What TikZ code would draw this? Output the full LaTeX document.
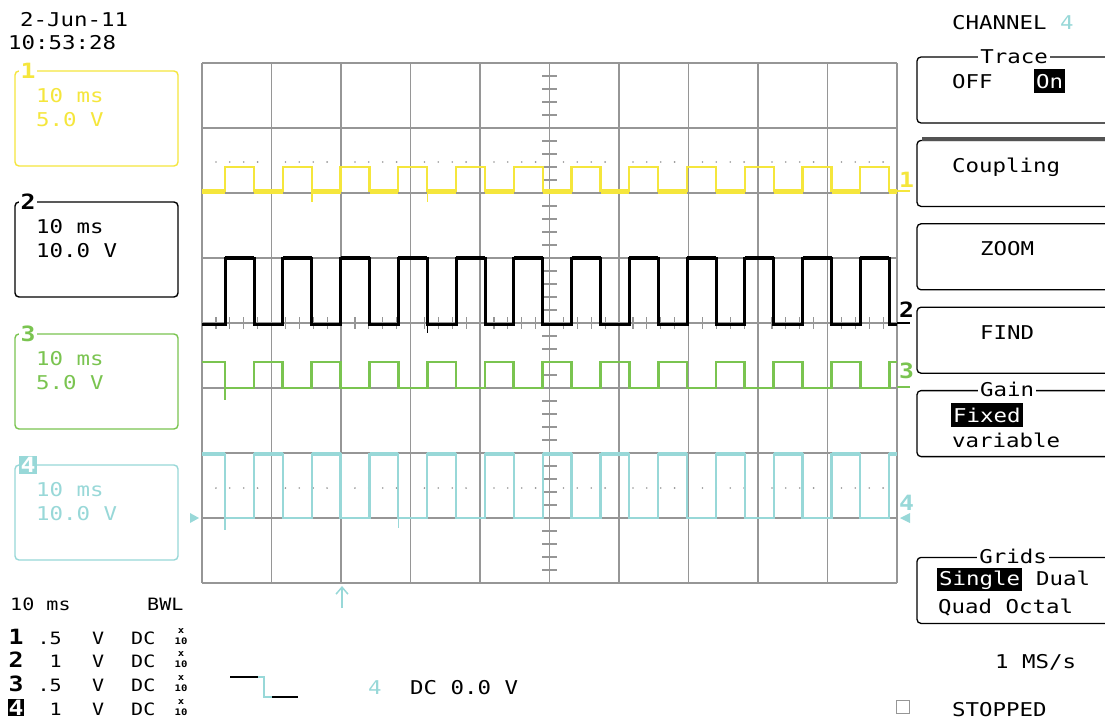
\documentclass[tikz,border=0pt]{standalone}
\usepackage{fontspec}
\newfontfamily\scopefont[FakeStretch=1.18]{DejaVu Sans Mono}
\usepackage{tikz}
\usetikzlibrary{arrows.meta}

\definecolor{chone}{RGB}{245,230,60}
\definecolor{chtwo}{RGB}{0,0,0}
\definecolor{chthree}{RGB}{122,196,80}
\definecolor{chfour}{RGB}{152,216,216}
\definecolor{grat}{RGB}{150,150,150}

\begin{document}
\begin{tikzpicture}[x=1pt,y=-1pt,line join=miter,
                    font=\scopefont\fontsize{19}{22}\selectfont]

  \tikzstyle{txt}=[inner sep=0pt,anchor=base west]
  \tikzstyle{small}=[txt,font=\scopefont\fontsize{17}{20}\selectfont]
  \tikzstyle{tag}=[inner sep=1.5pt,font=\scopefont\bfseries\fontsize{21}{22}\selectfont]
  \tikzstyle{probe}=[inner sep=0pt,anchor=base,font=\scopefont\bfseries\fontsize{9}{9}\selectfont]
  \tikzstyle{menu}=[draw,line width=1.3pt,rounded corners=4pt]
  \tikzstyle{title}=[fill=white,inner xsep=2pt,inner ysep=0pt,anchor=base]
  \tikzstyle{inv}=[fill=black,text=white,inner xsep=2pt,inner ysep=5pt,anchor=base west]
  \tikzstyle{gratline}=[grat,line width=1.6pt]

  \useasboundingbox (0,0) rectangle (1105,720);
  \clip (0,0) rectangle (1105,720);
  \fill[white] (0,0) rectangle (1105,720);

  % date and time
  \node[txt] (date) at (20,26) {2-Jun-11};
  \node[txt] (time) at (8,49) {10:53:28};

  % channel boxes on the left
  \foreach \n/\col/\ty/\volt/\bg/\fg in {1/chone/71/5.0 V/white/chone,
      2/chtwo/202/10.0 V/white/chtwo, 3/chthree/334/5.0 V/white/chthree,
      4/chfour/465/10.0 V/chfour/white} {
    \draw[\col,line width=1.4pt,rounded corners=4pt] (15,\ty) rectangle (178,\ty+95);
    \node[txt,text=\col] (ms\n) at (36,\ty+31) {10 ms};
    \node[txt,text=\col] (vd\n) at (36,\ty+55) {\volt};
    \node[tag,fill=\bg,text=\fg] (lb\n) at (28,\ty) {\n};
  }

  % graticule
  \foreach \i in {0,...,10}
    \draw[gratline] ({202+69.5*\i},63) -- ({202+69.5*\i},583);
  \foreach \j in {0,...,8}
    \draw[gratline] (202,{63+65*\j}) -- (897,{63+65*\j});
  \foreach \j in {1,...,39}
    \draw[gratline,line width=1.2pt] (542,{63+13*\j}) -- (557,{63+13*\j});
  \foreach \i in {1,...,49}
    \draw[gratline,line width=1.2pt] ({202+13.9*\i},317) -- ({202+13.9*\i},329);
  \foreach \d in {0,...,9}
    \foreach \m in {1,...,4} {
      \fill[grat] ({202+69.5*\d+13.9*\m},162) circle (0.9pt);
      \fill[grat] ({202+69.5*\d+13.9*\m},488) circle (0.9pt);
    }

  % trace 1
  \draw[chone,line width=2.4pt] (202,191)
    \foreach \k in {0,...,11} { -- ({225+57.75*\k},191) -- ({225+57.75*\k},167)
      -- ({254+57.75*\k},167) -- ({254+57.75*\k},191) } -- (897,191);
  \draw[chone,line width=5pt] (202,191) -- (225,191);
  \foreach \k in {0,...,11}
    \draw[chone,line width=5pt] ({254+57.75*\k},191) -- ({min(282.75+57.75*\k,897)},191);
  \draw[chone,line width=1.5pt] (311.75,191) -- (311.75,202);
  \draw[chone,line width=1.5pt] (427.25,191) -- (427.25,202);

  % trace 2
  \draw[chtwo,line width=3pt] (202,324)
    \foreach \k in {0,...,11} { -- ({225+57.75*\k},324) -- ({225+57.75*\k},258)
      -- ({254+57.75*\k},258) -- ({254+57.75*\k},324) } -- (897,324);
  \foreach \k in {0,...,11}
    \draw[chtwo,line width=4.5pt] ({225+57.75*\k},258) -- ({254+57.75*\k},258);
  \draw[chtwo,line width=1.5pt] (427.25,324) -- (427.25,333);

  % trace 3
  \draw[chthree,line width=2.8pt] (202,362)
    \foreach \k in {0,...,11} { -- ({225+57.75*\k},362) -- ({225+57.75*\k},388)
      -- ({254+57.75*\k},388) -- ({254+57.75*\k},362) } -- (897,362);
  \draw[chthree,line width=1.5pt] (225,388) -- (225,400);

  % trace 4
  \draw[chfour,line width=2.4pt] (202,454)
    \foreach \k in {0,...,11} { -- ({225+57.75*\k},454) -- ({225+57.75*\k},518)
      -- ({254+57.75*\k},518) -- ({254+57.75*\k},454) } -- (897,454);
  \foreach \k in {0,...,11}
    \draw[chfour,line width=3.5pt] ({254+57.75*\k},454) -- ({min(282.75+57.75*\k,897)},454);
  \draw[chfour,line width=3.5pt] (202,454) -- (225,454);
  \draw[chfour,line width=1.5pt] (225,518) -- (225,530);
  \draw[chfour,line width=1.5pt] (398.25,518) -- (398.25,528);

  % level markers
  \foreach \n/\col/\by/\ly in {1/chone/187/191, 2/chtwo/317/323, 3/chthree/378/387} {
    \node[tag,inner sep=0pt,anchor=base west,text=\col] (mk\n) at (899,\by) {\n};
    \draw[\col,line width=2pt] (897,\ly) -- (910,\ly);
  }
  \node[tag,inner sep=0pt,anchor=base west,text=chfour] (mk4) at (899,510) {4};
  \fill[chfour] (900,518) -- (910,513) -- (910,523) -- cycle;
  \fill[chfour] (190,513) -- (199,518) -- (190,523) -- cycle;

  % trigger position
  \coordinate (trgfoot) at (342,608);
  \coordinate (trghead) at (342,586);
  \draw[chfour,line width=1.5pt,-{Straight Barb[length=7pt,width=12pt]}] (trgfoot) -- (trghead);

  % menu on the right
  \node[txt] (chan) at (952,29) {CHANNEL \textcolor{chfour}{4}};
  \foreach \k in {0,1,2,3,4,6}
    \draw[menu] (917,{57+83.4*\k}) rectangle (1125,{123+83.4*\k});
  \draw[grat!55!black,line width=4pt] (922,138.5) -- (1110,138.5);
  \node[title] (trace) at (1014,63) {Trace};
  \node[txt] (off) at (952,88) {OFF};
  \node[inv] (on) at (1034,88) {On};
  \node[txt] (coup) at (952,172) {Coupling};
  \node[txt] (zoom) at (980,255) {ZOOM};
  \node[txt] (find) at (980,339) {FIND};
  \node[title] (gain) at (1007,396) {Gain};
  \node[inv] (fixed) at (951,422) {Fixed};
  \node[txt] (var) at (952,447) {variable};
  \node[title] (grids) at (1013,563) {Grids};
  \node[inv,inner ysep=2pt] (single) at (937,585) {Single};
  \node[txt] (dual) at (1036,585) {Dual};
  \node[txt] (quad) at (938,613) {Quad Octal};
  \node[txt] (rate) at (995,668) {1 MS/s};
  \node[draw=grat,line width=1pt,minimum size=13pt,inner sep=0pt] (stopbox) at (902.5,707) {};
  \node[txt] (stop) at (952,716) {STOPPED};

  % settings at the bottom
  \node[small] (tdiv) at (10,610) {10 ms};
  \node[small] (bwl) at (147,610) {BWL};
  \foreach \n/\ry/\volt/\bg/\fg in {1/644/.5/white/black, 2/667/1/white/black,
      3/691/.5/white/black, 4/715/1/black/white} {
    \node[tag,anchor=base west,inner sep=0.5pt,fill=\bg,text=\fg] (rn\n) at (8,\ry) {\n};
    \node[small,anchor=base east] (rv\n) at (62,\ry) {\volt};
    \node[small] (ru\n) at (92,\ry) {V};
    \node[small] (rc\n) at (131,\ry) {DC};
    \node[probe] (rx\n) at (181,\ry-11) {x};
    \node[probe] (rp\n) at (181,\ry) {10};
  }

  % trigger
  \coordinate (ta) at (230,677);
  \coordinate (tb) at (258,677);
  \coordinate (tc) at (264,677);
  \coordinate (td) at (264,697);
  \coordinate (te) at (272,697);
  \coordinate (tf) at (298,697);
  \draw[line width=1.5pt] (ta) -- (tb);
  \draw[chfour,line width=2pt] (tb) -- (tc) -- (td) -- (te);
  \draw[line width=1.5pt] (te) -- (tf);
  \node[txt,text=chfour] (tch) at (368,694) {4};
  \node[txt] (tlev) at (410,694) {DC 0.0 V};
\end{tikzpicture}
\end{document}
